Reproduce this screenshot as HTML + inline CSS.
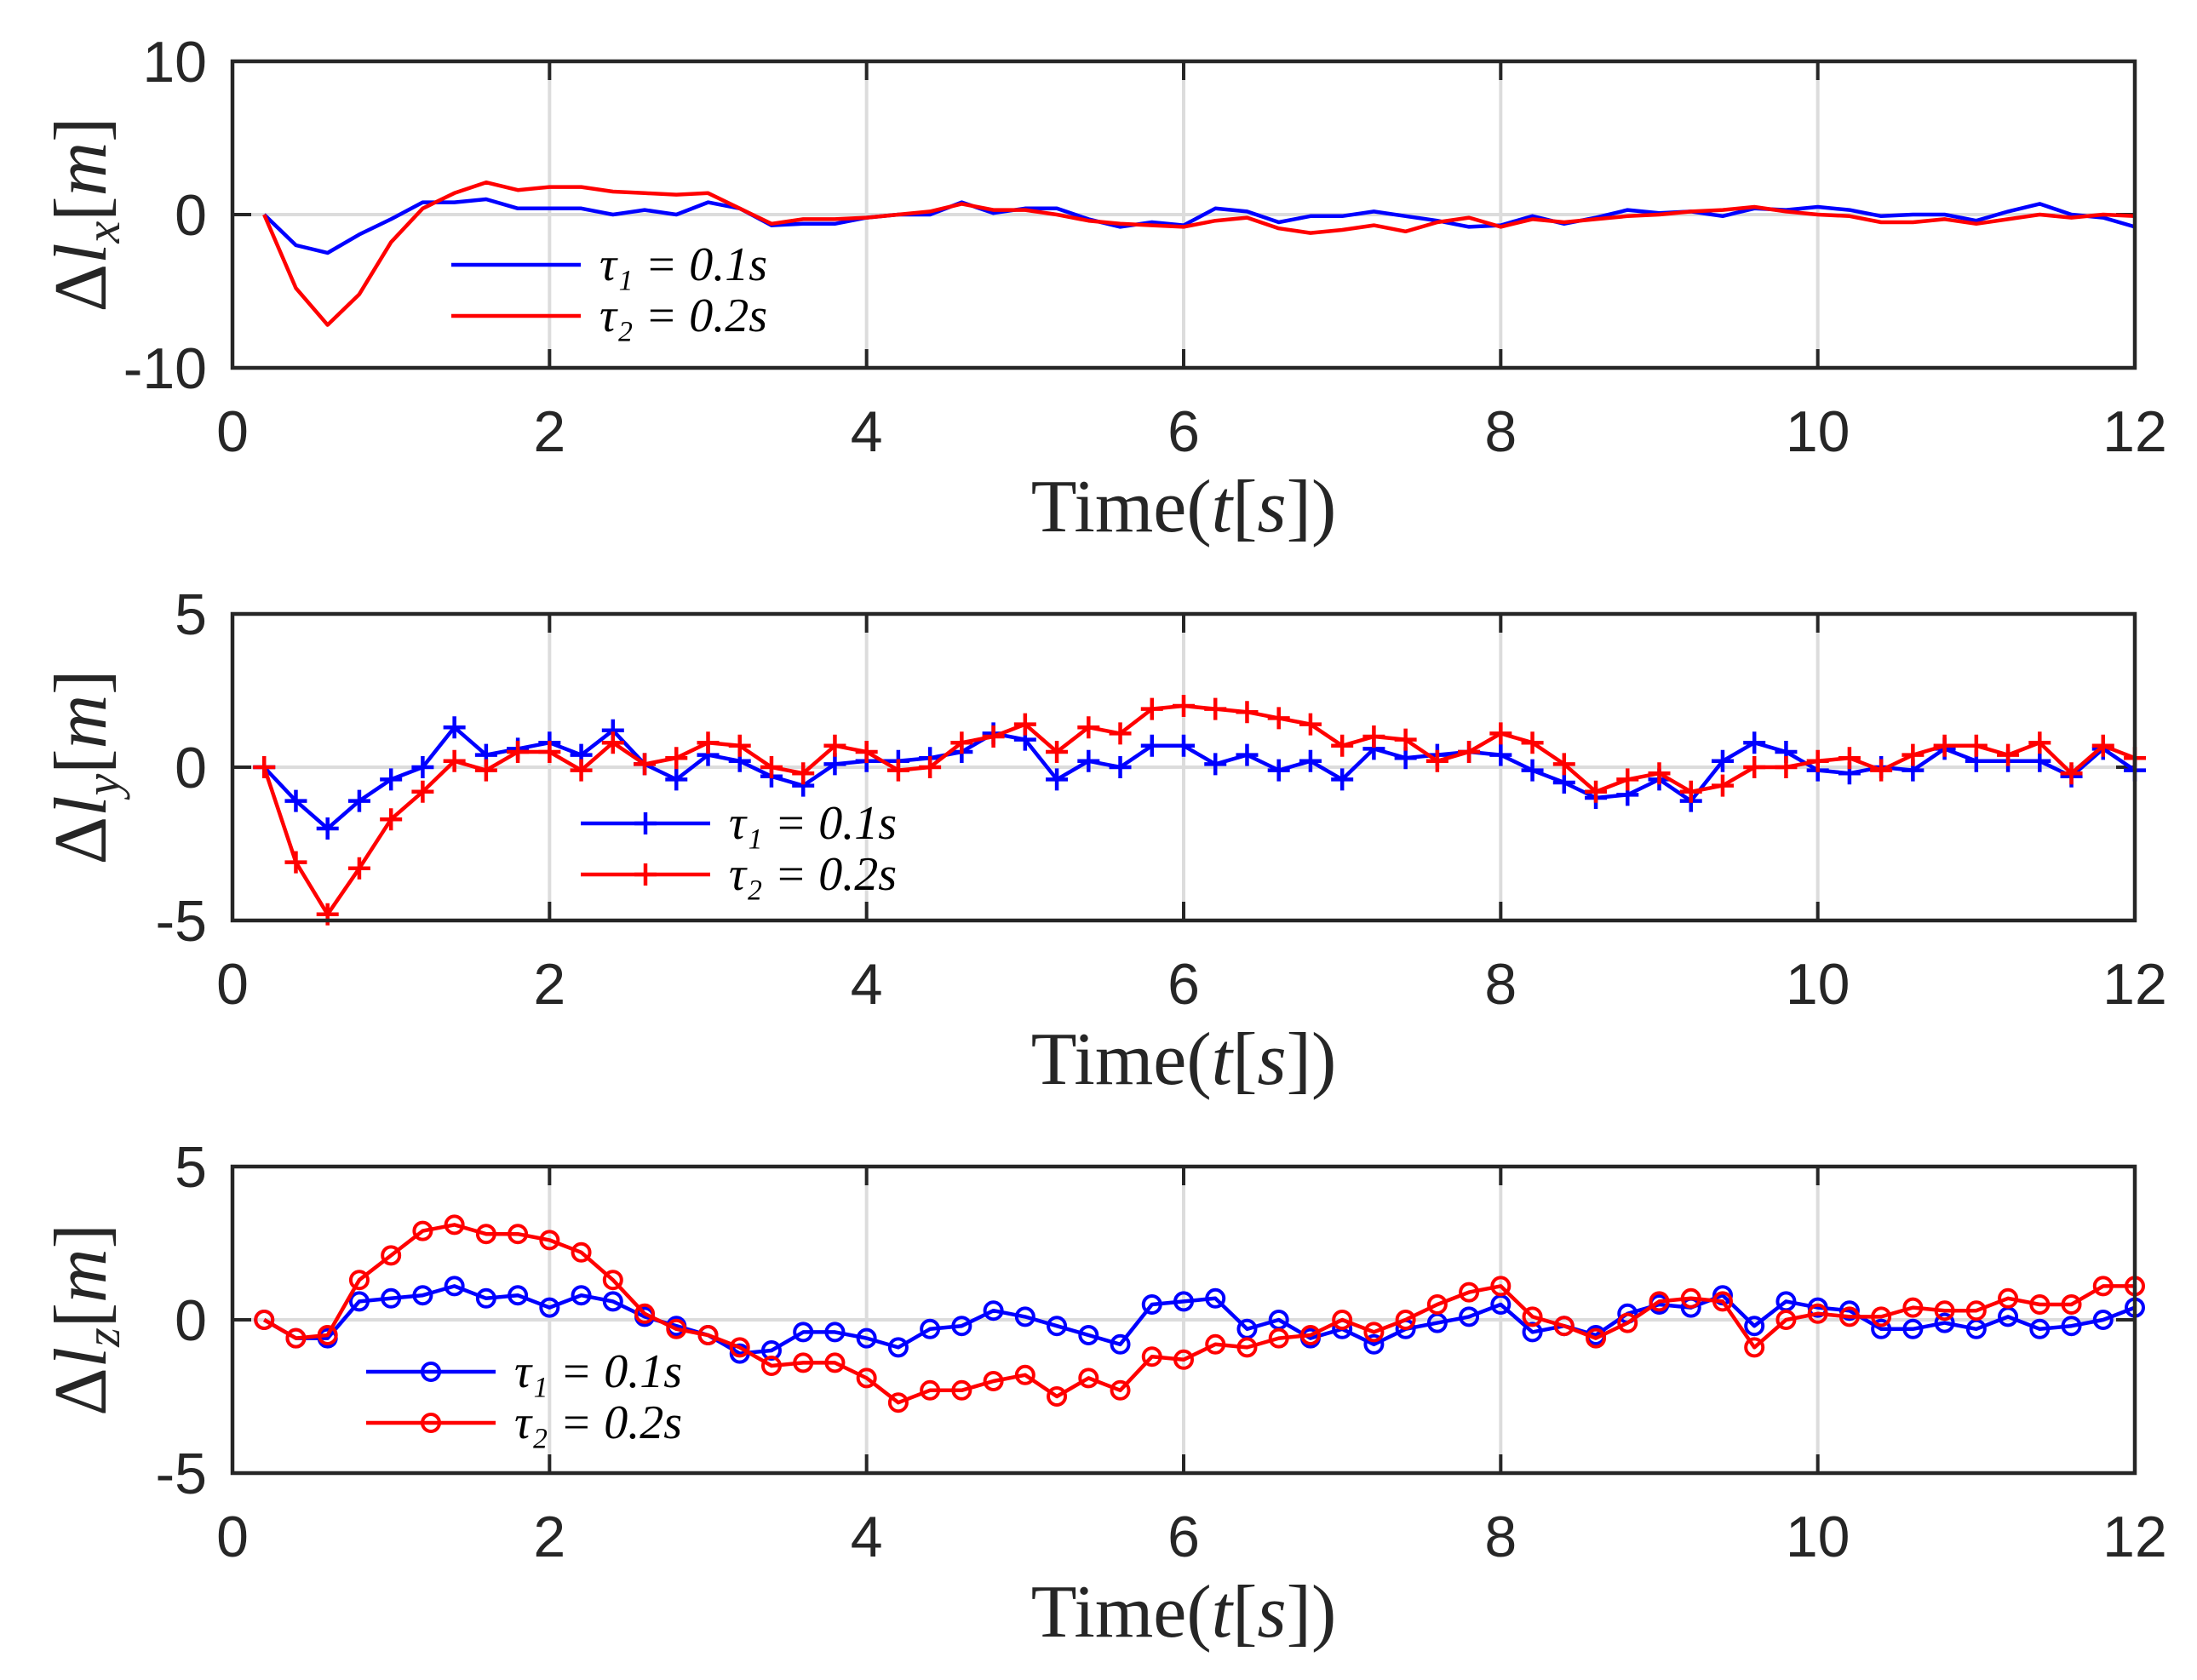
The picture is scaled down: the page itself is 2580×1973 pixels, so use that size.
<!DOCTYPE html>
<html><head><meta charset="utf-8"><style>
html,body{margin:0;padding:0;background:#fff}
svg{display:block}
.tk{font-family:"Liberation Sans",Arial,sans-serif;font-size:68px;fill:#262626}
.lab{font-family:"Liberation Serif","Times New Roman",serif;font-size:88px;fill:#262626}
.leg{font-family:"Liberation Serif","Times New Roman",serif;font-size:56px;fill:#000;font-style:italic}
</style></head><body>
<svg id="chart" width="2580" height="1973" viewBox="0 0 2580 1973" xmlns="http://www.w3.org/2000/svg"></svg>
<script>
const times = [];
for (let i = 1; i <= 60; i++) times.push(+(i * 0.2).toFixed(1));
const xTicks = [0, 2, 4, 6, 8, 10, 12];
const xBlue = [0,-2,-2.5,-1.3,-0.3,0.8,0.8,1.0,0.4,0.4,0.4,0,0.3,0,0.8,0.4,-0.7,-0.6,-0.6,-0.2,0,0,0.8,0.1,0.4,0.4,-0.3,-0.8,-0.5,-0.7,0.4,0.2,-0.5,-0.1,-0.1,0.2,-0.1,-0.4,-0.8,-0.7,-0.1,-0.6,-0.2,0.3,0.1,0.2,-0.1,0.4,0.3,0.5,0.3,-0.1,0,0,-0.4,0.2,0.7,0,-0.2,-0.8];
const xRed = [0,-4.8,-7.2,-5.2,-1.8,0.4,1.4,2.1,1.6,1.8,1.8,1.5,1.4,1.3,1.4,0.4,-0.6,-0.3,-0.3,-0.2,0,0.2,0.7,0.3,0.3,0,-0.4,-0.6,-0.7,-0.8,-0.4,-0.2,-0.9,-1.2,-1.0,-0.7,-1.1,-0.5,-0.2,-0.8,-0.3,-0.5,-0.3,-0.1,0,0.2,0.3,0.5,0.2,0,-0.1,-0.5,-0.5,-0.3,-0.6,-0.3,0,-0.2,0,-0.1];
const yBlue = [0,-1.1,-2.0,-1.1,-0.4,0,1.3,0.4,0.6,0.8,0.4,1.2,0.1,-0.4,0.4,0.2,-0.3,-0.6,0.1,0.2,0.2,0.3,0.5,1.1,0.9,-0.4,0.2,0,0.7,0.7,0.1,0.4,-0.1,0.2,-0.4,0.6,0.3,0.4,0.5,0.4,-0.1,-0.5,-1.0,-0.9,-0.4,-1.1,0.2,0.8,0.5,-0.1,-0.2,0,-0.1,0.6,0.2,0.2,0.2,-0.3,0.6,-0.1];
const yRed = [0,-3.1,-4.8,-3.3,-1.7,-0.8,0.2,-0.1,0.5,0.5,-0.1,0.8,0.1,0.3,0.8,0.7,0,-0.2,0.7,0.5,-0.1,0,0.8,1.0,1.4,0.5,1.3,1.1,1.9,2.0,1.9,1.8,1.6,1.4,0.7,1.0,0.9,0.2,0.5,1.1,0.8,0.1,-0.8,-0.4,-0.2,-0.8,-0.6,0,0,0.2,0.3,-0.1,0.4,0.7,0.7,0.4,0.8,-0.2,0.7,0.3];
const zBlue = [0,-0.6,-0.6,0.6,0.7,0.8,1.1,0.7,0.8,0.4,0.8,0.6,0.1,-0.2,-0.5,-1.1,-1.0,-0.4,-0.4,-0.6,-0.9,-0.3,-0.2,0.3,0.1,-0.2,-0.5,-0.8,0.5,0.6,0.7,-0.3,0,-0.6,-0.3,-0.8,-0.3,-0.1,0.1,0.5,-0.4,-0.2,-0.5,0.2,0.5,0.4,0.8,-0.2,0.6,0.4,0.3,-0.3,-0.3,-0.1,-0.3,0.1,-0.3,-0.2,0,0.4];
const zRed = [0,-0.6,-0.5,1.3,2.1,2.9,3.1,2.8,2.8,2.6,2.2,1.3,0.2,-0.3,-0.5,-0.9,-1.5,-1.4,-1.4,-1.9,-2.7,-2.3,-2.3,-2.0,-1.8,-2.5,-1.9,-2.3,-1.2,-1.3,-0.8,-0.9,-0.6,-0.5,0,-0.4,0,0.5,0.9,1.1,0.1,-0.2,-0.6,-0.1,0.6,0.7,0.6,-0.9,0,0.2,0.1,0.1,0.4,0.3,0.3,0.7,0.5,0.5,1.1,1.1];
const legendLabels = ["τ₁ = 0.1s", "τ₂ = 0.2s"];

const NS = "http://www.w3.org/2000/svg";
const svg = document.getElementById("chart");
function el(tag, attrs, parent) {
  const e = document.createElementNS(NS, tag);
  for (const k in attrs) e.setAttribute(k, attrs[k]);
  (parent || svg).appendChild(e);
  return e;
}
const L = 273, R = 2507;
const panels = [
  {name:"x", top:72, bot:432, min:-10, max:10, ticks:[-10,0,10], blue:xBlue, red:xRed, marker:"none", sub:"x", legX:530, legY:311},
  {name:"y", top:721, bot:1081, min:-5, max:5, ticks:[-5,0,5], blue:yBlue, red:yRed, marker:"plus", sub:"y", legX:682, legY:967},
  {name:"z", top:1370, bot:1730, min:-5, max:5, ticks:[-5,0,5], blue:zBlue, red:zRed, marker:"circle", sub:"z", legX:430, legY:1611}
];
function xs(t) { return L + (t / 12) * (R - L); }

panels.forEach(p => {
  const g = el("g", {});
  
  
  const ys = v => p.bot - (v - p.min) / (p.max - p.min) * (p.bot - p.top);
  xTicks.forEach(t => { if (t > 0 && t < 12) el("line", {x1:xs(t), x2:xs(t), y1:p.top, y2:p.bot, stroke:"#dcdcdc", "stroke-width":4}, g); });
  p.ticks.forEach(v => { if (v > p.min && v < p.max) el("line", {x1:L, x2:R, y1:ys(v), y2:ys(v), stroke:"#dcdcdc", "stroke-width":4}, g); });
  xTicks.forEach(t => {
    el("line", {x1:xs(t), x2:xs(t), y1:p.top, y2:p.top+22, stroke:"#262626", "stroke-width":4}, g);
    el("line", {x1:xs(t), x2:xs(t), y1:p.bot, y2:p.bot-22, stroke:"#262626", "stroke-width":4}, g);
    const tx = el("text", {x:xs(t), y:p.bot+98, "text-anchor":"middle", class:"tk"}, g);
    
    
    tx.textContent = t;
  });
  p.ticks.forEach(v => {
    el("line", {x1:L, x2:L+22, y1:ys(v), y2:ys(v), stroke:"#262626", "stroke-width":4}, g);
    el("line", {x1:R, x2:R-22, y1:ys(v), y2:ys(v), stroke:"#262626", "stroke-width":4}, g);
    const tx = el("text", {x:L-30, y:ys(v)+24, "text-anchor":"end", class:"tk"}, g);
    
    
    tx.textContent = v;
  });
  [[p.blue, "#0000ff", "blue"], [p.red, "#ff0000", "red"]].forEach(([vals, col, nm]) => {
    const pts = vals.map((v, i) => xs(times[i]).toFixed(1) + "," + ys(v).toFixed(1)).join(" ");
    const pl = el("polyline", {points:pts, fill:"none", stroke:col, "stroke-width":4.5, "stroke-linejoin":"round"}, g);
    
    
    vals.forEach((v, i) => {
      const cx = xs(times[i]), cy = ys(v);
      if (p.marker === "plus") {
        el("path", {d:`M${cx-13},${cy}H${cx+13}M${cx},${cy-13}V${cy+13}`, stroke:col, "stroke-width":4.5, fill:"none"}, g);
      } else if (p.marker === "circle") {
        el("circle", {cx:cx, cy:cy, r:10, stroke:col, "stroke-width":4, fill:"none"}, g);
      }
    });
  });
  const box = el("rect", {x:L, y:p.top, width:R-L, height:p.bot-p.top, fill:"none", stroke:"#262626", "stroke-width":4.5}, g);
  
  
  const lg = el("g", {}, g);
  
  
  [["#0000ff", 0], ["#ff0000", 60]].forEach(([col, dy], k) => {
    const y = p.legY + dy, x1 = p.legX, x2 = p.legX + 152;
    el("line", {x1:x1, x2:x2, y1:y, y2:y, stroke:col, "stroke-width":4.5}, lg);
    if (p.marker === "plus") el("path", {d:`M${(x1+x2)/2-13},${y}H${(x1+x2)/2+13}M${(x1+x2)/2},${y-13}V${y+13}`, stroke:col, "stroke-width":4.5}, lg);
    if (p.marker === "circle") el("circle", {cx:(x1+x2)/2, cy:y, r:10, stroke:col, "stroke-width":4, fill:"none"}, lg);
    const t = el("text", {x:x2 + 22, y:y + 18, class:"leg"}, lg);
    
    
    t.textContent = legendLabels[k];
  });
  const xl = el("text", {x:(L+R)/2, y:p.bot+192, "text-anchor":"middle", class:"lab"}, g);
  
  
  xl.innerHTML = 'Time(<tspan font-style="italic">t</tspan>[<tspan font-style="italic">s</tspan>])';
  const cy = (p.top + p.bot) / 2;
  const yl = el("text", {x:0, y:0, transform:`translate(124,${cy}) rotate(-90)`, "text-anchor":"middle", class:"lab"}, g);
  
  
  yl.innerHTML = 'Δ<tspan font-style="italic">l</tspan><tspan font-style="italic" font-size="58" dy="16">' + p.sub + '</tspan><tspan dy="-16">[</tspan><tspan font-style="italic">m</tspan>]';
});
</script>
</body></html>
